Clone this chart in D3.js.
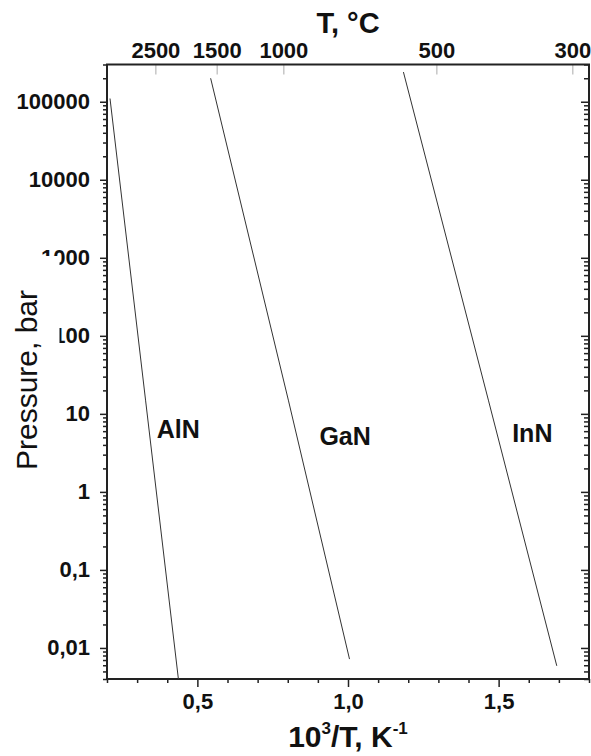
<!DOCTYPE html>
<html>
<head>
<meta charset="utf-8">
<script src="https://cdn.jsdelivr.net/npm/d3@7"></script>
<style>
  html, body { margin: 0; padding: 0; background: #fff; }
  svg { display: block; font-family: "Liberation Sans", Arial, sans-serif; }
</style>
</head>
<body>
<svg id="chart" width="591" height="756"></svg>
<script>
// Equilibrium N2 pressure over the nitrides vs reciprocal temperature
const seriesNames = ["AlN", "GaN", "InN"];
const invT_AlN = [0.21, 0.328, 0.437];
const p_AlN    = [1.1e5, 15, 0.004];
const invT_GaN = [0.544, 0.802, 1.005];
const p_GaN    = [2.0e5, 15, 0.0072];
const invT_InN = [1.184, 1.466, 1.693];
const p_InN    = [2.4e5, 15, 0.0059];

// label anchor points (x in 10^3/T, y in bar)
const labelInvT = [0.365, 0.905, 1.545];
const labelP    = [4.9, 4.0, 4.4];

const xMajorTicks = [0.5, 1.0, 1.5];
const yMajorTicks = [0.01, 0.1, 1, 10, 100, 1000, 10000, 100000];
const topTempC    = [2500, 1500, 1000, 500, 300];

const svg = d3.select("#chart");
const plot = { left: 107, right: 589, top: 64.5, bottom: 679 };

const x = d3.scaleLinear().domain([0.2, 1.8]).range([plot.left, plot.right]);
const y = d3.scaleLog().domain([0.004, 3e5]).range([plot.bottom, plot.top]);

const comma = s => s.replace(".", ",");

// minor tick values on the log axis (2..9 in every decade)
const yMinor = [];
for (let e = -3; e <= 5; e++) {
  for (let k = 2; k <= 9; k++) {
    const v = k * Math.pow(10, e);
    if (v >= 0.004 && v <= 3e5) yMinor.push(v);
  }
}
const xMinor = x.ticks(16).filter(v => !xMajorTicks.some(m => Math.abs(m - v) < 1e-9));

function styleAxis(g) {
  g.select(".domain").remove();
  g.selectAll(".tick line").attr("stroke", "#222").attr("stroke-width", 1.5);
  g.selectAll("text")
    .attr("font-size", 22).attr("font-weight", "bold").attr("fill", "#111")
    .attr("font-family", "'Liberation Sans', Arial, sans-serif");
}

// bottom axis
svg.append("g").attr("transform", `translate(0,${plot.bottom})`)
  .call(d3.axisBottom(x).tickValues(xMinor).tickSize(4).tickFormat(""))
  .call(styleAxis);
svg.append("g").attr("transform", `translate(0,${plot.bottom})`)
  .call(d3.axisBottom(x).tickValues(xMajorTicks).tickSize(8).tickPadding(6)
        .tickFormat(d => comma(d3.format(".1f")(d))))
  .call(styleAxis);

// left axis
svg.append("g").attr("transform", `translate(${plot.left},0)`)
  .call(d3.axisLeft(y).tickValues(yMinor).tickSize(4).tickFormat(""))
  .call(styleAxis);
svg.append("g").attr("transform", `translate(${plot.left},0)`)
  .call(d3.axisLeft(y).tickValues(yMajorTicks).tickSize(7).tickPadding(10)
        .tickFormat(d => comma(String(d))))
  .call(styleAxis);

// right axis, ticks pointing inward
svg.append("g").attr("transform", `translate(${plot.right},0)`)
  .call(d3.axisLeft(y).tickValues(yMinor).tickSize(5).tickFormat(""))
  .call(styleAxis);
svg.append("g").attr("transform", `translate(${plot.right},0)`)
  .call(d3.axisLeft(y).tickValues(yMajorTicks).tickSize(8).tickFormat(""))
  .call(styleAxis);

// top axis in degrees Celsius, light ticks inside the frame
const topAxis = svg.append("g").attr("transform", `translate(0,${plot.top})`)
  .call(d3.axisTop(x).tickValues(topTempC.map(t => 1000 / (t + 273.15)))
        .tickSizeInner(-10).tickSizeOuter(0).tickPadding(7)
        .tickFormat((d, i) => String(topTempC[i])))
  .call(styleAxis);
topAxis.selectAll(".tick line").attr("stroke", "#aaa").attr("stroke-width", 1);

// frame
svg.append("rect")
  .attr("x", plot.left).attr("y", plot.top)
  .attr("width", plot.right - plot.left).attr("height", plot.bottom - plot.top)
  .attr("fill", "none").attr("stroke", "#222").attr("stroke-width", 2);

// curves
const curves = [
  { name: seriesNames[0], xs: invT_AlN, ps: p_AlN },
  { name: seriesNames[1], xs: invT_GaN, ps: p_GaN },
  { name: seriesNames[2], xs: invT_InN, ps: p_InN }
];
const line = d3.line().x(d => x(d[0])).y(d => y(d[1]));
svg.append("g").selectAll("path").data(curves).join("path")
  .attr("d", c => line(c.xs.map((v, i) => [v, c.ps[i]])))
  .attr("fill", "none").attr("stroke", "#333").attr("stroke-width", 1);

// curve labels
svg.append("g").selectAll("text").data(seriesNames).join("text")
  .attr("x", (d, i) => x(labelInvT[i]))
  .attr("y", (d, i) => y(labelP[i]))
  .attr("font-size", 25).attr("font-weight", "bold").attr("fill", "#111")
  .text(d => d);

// y-axis title on a white label box
svg.append("rect").attr("x", 4).attr("y", 256).attr("width", 55.5).attr("height", 228)
  .attr("fill", "#fff");
svg.append("text")
  .attr("transform", "translate(37,380) rotate(-90)")
  .attr("text-anchor", "middle")
  .attr("font-size", 30).attr("fill", "#111")
  .text("Pressure, bar");

// x-axis title with superscripts
const xt = svg.append("text")
  .attr("x", (plot.left + plot.right) / 2).attr("y", 747)
  .attr("text-anchor", "middle")
  .attr("font-size", 30).attr("font-weight", "bold").attr("fill", "#111");
xt.append("tspan").text("10");
xt.append("tspan").attr("font-size", 17).attr("dy", -13).text("3");
xt.append("tspan").attr("dy", 13).text("/T, K");
xt.append("tspan").attr("font-size", 17).attr("dy", -13).text("-1");

// top title
svg.append("text")
  .attr("x", (plot.left + plot.right) / 2).attr("y", 33)
  .attr("text-anchor", "middle")
  .attr("font-size", 29).attr("font-weight", "bold").attr("fill", "#111")
  .text("T, °C");
</script>
</body>
</html>
